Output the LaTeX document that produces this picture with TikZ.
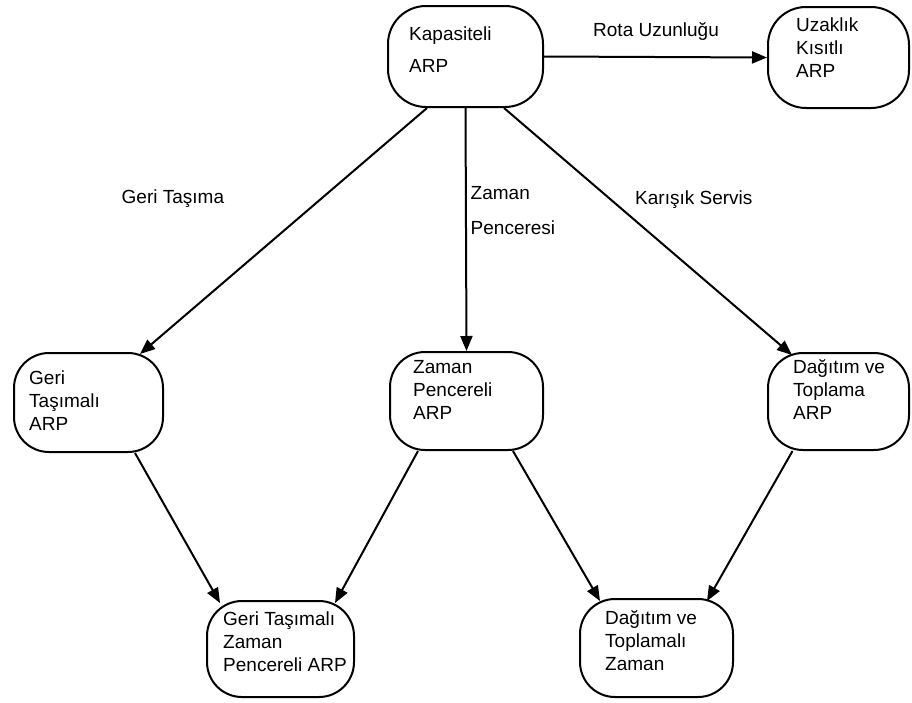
\documentclass[tikz,border=0pt]{standalone}
\usepackage{fontspec}
\setmainfont{Liberation Sans}
\usetikzlibrary{arrows.meta,calc}

\tikzset{
  stage/.style={draw, line width=2pt, rounded corners=#1, inner sep=0pt},
  stage/.default=35pt,
  % multi-line captions are placed by the baseline of their last line
  boxtext/.style={anchor=base west, inner sep=0pt, align=left,
    font=\fontsize{19}{22.8}\selectfont},
  edgetext/.style={anchor=base west, inner sep=0pt, align=left,
    font=\fontsize{19}{34.7}\selectfont},
  arr/.style={line width=2pt, -{Triangle[length=15pt,width=12pt]}},
}

\begin{document}
\begin{tikzpicture}[x=1pt,y=-1pt]
  \useasboundingbox (0,0) rectangle (912,702);

  % problem variants as rounded boxes
  \node[stage=38pt, minimum width=155pt, minimum height=101pt] (kap)  at (465.5,56.5) {};
  \node[stage=38pt, minimum width=141pt, minimum height=101pt] (uz)   at (838.5,57.5) {};
  \node[stage, minimum width=149pt, minimum height=99pt]  (geri) at (88.5,402.5) {};
  \node[stage, minimum width=153pt, minimum height=98pt]  (zp)   at (466.5,401) {};
  \node[stage, minimum width=141pt, minimum height=97pt]  (dt)   at (838.5,401.5) {};
  \node[stage, minimum width=147pt, minimum height=96pt]  (gtzp) at (280.5,649) {};
  \node[stage, minimum width=153pt, minimum height=98pt]  (dtz)  at (656.5,648) {};

  % box captions
  \node[boxtext, font=\fontsize{19}{31.6}\selectfont] (kapt) at (409,72.3) {Kapasiteli\\ARP};
  \node[boxtext] (uzt)   at (796,77)    {Uzaklık\\Kısıtlı\\ARP};
  \node[boxtext] (gerit) at (29,430)    {Geri\\Taşımalı\\ARP};
  \node[boxtext] (zpt)   at (413,419.5) {Zaman\\Pencereli\\ARP};
  \node[boxtext] (dtt)   at (793,419.5) {Dağıtım ve\\Toplama\\ARP};
  \node[boxtext] (gtzpt) at (223,671.5) {Geri Taşımalı\\Zaman\\Pencereli ARP};
  \node[boxtext] (dtzt)  at (605,670)   {Dağıtım ve\\Toplamalı\\Zaman};

  % edge captions
  \node[edgetext] (l1) at (593,36)    {Rota Uzunluğu};
  \node[edgetext] (l2) at (121.5,203) {Geri Taşıma};
  \node[edgetext] (l3) at (470.5,234) {Zaman\\Penceresi};
  \node[edgetext] (l4) at (635,204)   {Karışık Servis};

  % extensions of the capacitated problem
  \draw[arr] (kap.east) -- (uz.west);
  \draw[arr] ($(kap.south)+(-38.5,0)$) -- ($(geri.north)+(51.5,2)$);
  \draw[arr] (kap.south) -- (zp.north);
  \draw[arr] ($(kap.south)+(38.5,0)$) -- ($(dt.north)+(-46.5,3)$);

  % combined variants
  \draw[arr] ($(geri.south)+(46.5,0)$) -- ($(gtzp.north)+(-60.5,3)$);
  \draw[arr] ($(zp.south)+(-48.5,0)$) -- ($(gtzp.north)+(54.5,3)$);
  \draw[arr] ($(zp.south)+(46.5,0)$) -- ($(dtz.north)+(-56.5,3)$);
  \draw[arr] ($(dt.south)+(-46,0)$) -- ($(dtz.north)+(50.5,3)$);
\end{tikzpicture}
\end{document}
